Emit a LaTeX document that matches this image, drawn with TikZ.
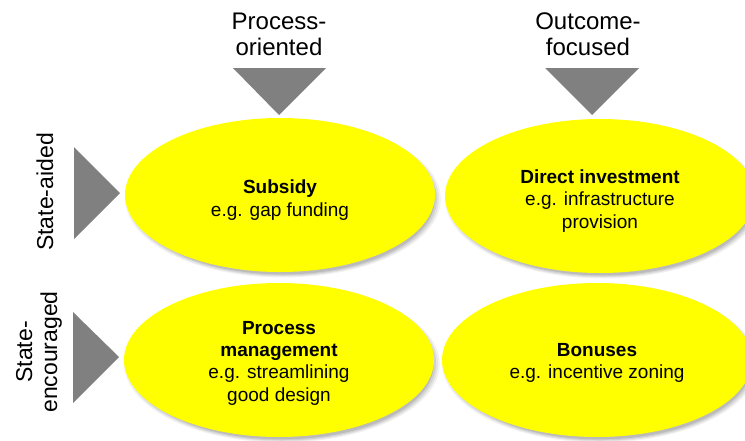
\documentclass[tikz,border=0pt]{standalone}
\usepackage{fontspec}
\setmainfont{Liberation Sans}
\usetikzlibrary{shapes.geometric,shadows}
\definecolor{trigray}{HTML}{808080}
\definecolor{ovalyellow}{HTML}{FFFF00}
\begin{document}
\begin{tikzpicture}[x=1pt,y=-1pt,
  softshadow/.style={
    general shadow={fill=black,opacity=0.05,shadow xshift=3pt,shadow yshift=-4pt,shadow scale=1.018},
    general shadow={fill=black,opacity=0.06,shadow xshift=3pt,shadow yshift=-4pt,shadow scale=1.006},
    general shadow={fill=black,opacity=0.08,shadow xshift=3pt,shadow yshift=-4pt,shadow scale=0.994},
    general shadow={fill=black,opacity=0.10,shadow xshift=3pt,shadow yshift=-4pt,shadow scale=0.98}},
  oval/.style={ellipse,softshadow,fill=ovalyellow,minimum width=310pt,minimum height=154pt,
    inner sep=0pt},
  ovaltext/.style={align=center,inner sep=0pt,font=\fontsize{19}{22.3}\selectfont},
  tri/.style={fill=trigray},
  toplab/.style={align=center,inner sep=0pt,font=\fontsize{24}{26}\selectfont},
  sidelab/.style={align=center,inner sep=0pt,rotate=90,font=\fontsize{23}{25}\selectfont}]
\clip (0,0) rectangle (745,440);
\fill[white] (0,0) rectangle (745,440);
% direction triangles
\fill[tri] (233,68) -- (326,68) -- (279,115) -- cycle;
\fill[tri] (545,68) -- (639,68) -- (592,115) -- cycle;
\fill[tri] (74,147) -- (74,239) -- (120,193) -- cycle;
\fill[tri] (73,312) -- (73,403) -- (119,357) -- cycle;
% labels
\node[toplab] (po) at (279,34) {Process-\\oriented};
\node[toplab] (of) at (588,34) {Outcome-\\focused};
\node[sidelab] (sa) at (45,192) {State-aided};
\node[sidelab] (se) at (39,352) {State-\\encouraged};
% ellipses
\node[oval] (e1) at (280,195) {};
\node[oval] (e2) at (600,196) {};
\node[oval] (e3) at (279,360) {};
\node[oval] (e4) at (597,360) {};
\node[ovaltext] (t1) at ([yshift=-5pt]e1.center) {\textbf{Subsidy}\\e.g. gap funding};
\node[ovaltext] (t2) at ([yshift=-5pt]e2.center) {\textbf{Direct investment}\\e.g. infrastructure\\provision};
\node[ovaltext] (t3) at ([yshift=-3pt]e3.center) {\textbf{Process}\\\textbf{management}\\e.g. streamlining\\good design};
\node[ovaltext] (t4) at ([yshift=-3pt]e4.center) {\textbf{Bonuses}\\e.g. incentive zoning};
\end{tikzpicture}
\end{document}
